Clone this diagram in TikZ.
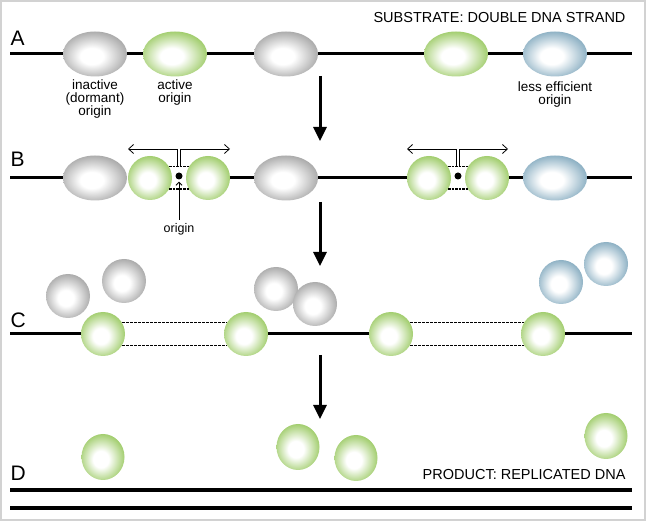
\documentclass[tikz,border=0pt]{standalone}
\usepackage{fontspec}
\setmainfont{Liberation Sans}
\usetikzlibrary{arrows.meta,shapes.geometric}

\definecolor{orgreen}{RGB}{118,182,42}
\definecolor{orblue}{RGB}{88,140,168}
\definecolor{orgray}{RGB}{132,132,132}

% white core, coloured rim
\pgfdeclareradialshading{ballgreen}{\pgfpoint{-3bp}{-3bp}}{color(0bp)=(white); color(9bp)=(white); color(35bp)=(orgreen); color(50bp)=(orgreen!90!black)}
\pgfdeclareradialshading{ballblue}{\pgfpoint{-3bp}{-3bp}}{color(0bp)=(white); color(9bp)=(white); color(35bp)=(orblue); color(50bp)=(orblue!90!black)}
\pgfdeclareradialshading{ballgray}{\pgfpoint{-3bp}{-3bp}}{color(0bp)=(white); color(9bp)=(white); color(35bp)=(orgray); color(50bp)=(orgray!90!black)}

\begin{document}
\begin{tikzpicture}[x=1pt,y=-1pt,
                    dna/.style={line width=3pt},
                    bigarrow/.style={line width=3pt,-{Triangle[length=14pt,width=13pt]}},
                    fork/.style={line width=0.8pt,-{Straight Barb[length=5pt,width=9pt]}},
                    pointer/.style={line width=0.8pt,shorten >=2pt,-{Straight Barb[length=3pt,width=6pt]}}]
  \tikzstyle{ell}=[ellipse,shade,inner sep=0pt,minimum width=64pt,minimum height=45pt]
  \tikzstyle{ball}=[circle,shade,inner sep=0pt,minimum size=44pt]
  \tikzstyle{egg}=[ellipse,shade,inner sep=0pt,minimum width=43pt,minimum height=46pt,shading=ballgreen]
  \tikzstyle{dot}=[circle,fill=black,inner sep=0pt,minimum size=7pt]
  \tikzstyle{row}=[anchor=west,font=\fontsize{21}{21}\selectfont]
  \tikzstyle{title}=[anchor=east,font=\fontsize{14.5}{14.5}\selectfont]
  \tikzstyle{lbl}=[align=center,inner sep=0pt,font=\fontsize{13.5}{13}\selectfont]

  \useasboundingbox (0,0) rectangle (646,521);
  \draw[gray!35,line width=1.5pt] (1,1) rectangle (645,520);

  % A: substrate
  \node[row]   (rowA) at (7,38)   {A};
  \node[title] (subst) at (629,18) {SUBSTRATE: DOUBLE DNA STRAND};
  \node[ell,shading=ballgray]  (a1) at (95,54)  {};
  \node[ell,shading=ballgreen] (a2) at (175,54) {};
  \node[ell,shading=ballgray]  (a3) at (286,54) {};
  \node[ell,shading=ballgreen] (a4) at (456,54) {};
  \node[ell,shading=ballblue]  (a5) at (555,54) {};
  \coordinate (Aw) at (10,54);
  \coordinate (Ae) at (632,54);
  \draw[dna] (Aw) -- (a1) -- (a2) -- (a3) -- (a4) -- (a5) -- (Ae);
  \node[lbl] (inact) at (95,99)  {inactive\\(dormant)\\origin};
  \node[lbl] (act)   at (175,93) {active\\origin};
  \node[lbl] (less)  at (555,95) {less efficient\\origin};

  \coordinate (s1) at (320,76);  \coordinate (e1) at (320,141);
  \draw[bigarrow] (s1) -- (e1);

  % B: firing
  \node[row] (rowB) at (7,159) {B};
  \node[ell,shading=ballgray]  (b1) at (95,178)  {};
  \node[ball,shading=ballgreen] (g1) at (150,178) {};
  \node[ball,shading=ballgreen] (g2) at (208,178) {};
  \node[ell,shading=ballgray]  (b3) at (286,178) {};
  \node[ball,shading=ballgreen] (g3) at (429,178) {};
  \node[ball,shading=ballgreen] (g4) at (487,178) {};
  \node[ell,shading=ballblue]  (b5) at (555,178) {};
  \coordinate (Bw) at (10,178);
  \coordinate (Be) at (632,178);
  \draw[dna] (Bw) -- (b1);
  \draw[dna] (g2) -- (b3) -- (g3);
  \draw[dna] (g4) -- (b5) -- (Be);
  \draw[line width=1.2pt,dash pattern=on 2.5pt off 1pt] (g1.30) -- (g2.150) (g1.-30) -- (g2.-150);
  \draw[line width=1.2pt,dash pattern=on 2.5pt off 1pt] (g3.30) -- (g4.150) (g3.-30) -- (g4.-150);
  \node[dot] (ori1) at (179,176) {};
  \node[dot] (ori2) at (458,176) {};
  \coordinate (fl1) at (128,149); \coordinate (fr1) at (230,149);
  \coordinate (fl2) at (407,149); \coordinate (fr2) at (508,149);
  \draw[fork] ([xshift=-1.5pt,yshift=9pt]ori1.center) |- (fl1);
  \draw[fork] ([xshift=1.5pt,yshift=9pt]ori1.center) |- (fr1);
  \draw[fork] ([xshift=-1.5pt,yshift=9pt]ori2.center) |- (fl2);
  \draw[fork] ([xshift=1.5pt,yshift=9pt]ori2.center) |- (fr2);
  \node[font=\fontsize{12.5}{12.5}\selectfont] (olab) at (179,229) {origin};
  \draw[pointer] (olab) -- (ori1);

  \coordinate (s2) at (320,202); \coordinate (e2) at (320,266);
  \draw[bigarrow] (s2) -- (e2);

  % C: elongation, unused origins leave
  \node[row] (rowC) at (7,320) {C};
  \node[ball,shading=ballgray] (d1) at (68,296)  {};
  \node[ball,shading=ballgray] (d2) at (124,281) {};
  \node[ball,shading=ballgray] (d3) at (276,289) {};
  \node[ball,shading=ballgray] (d4) at (315,304) {};
  \node[ball,shading=ballblue] (l1) at (561,282) {};
  \node[ball,shading=ballblue] (l2) at (606,264) {};
  \node[ball,shading=ballgreen] (c1) at (103,334) {};
  \node[ball,shading=ballgreen] (c2) at (246,334) {};
  \node[ball,shading=ballgreen] (c3) at (391,334) {};
  \node[ball,shading=ballgreen] (c4) at (543,334) {};
  \coordinate (Cw) at (10,334);
  \coordinate (Ce) at (632,334);
  \draw[dna] (Cw) -- (c1);
  \draw[dna] (c2) -- (c3);
  \draw[dna] (c4) -- (Ce);
  \draw[line width=1pt,dash pattern=on 3pt off 1pt] (c1.30) -- (c2.150) (c1.-30) -- (c2.-150);
  \draw[line width=1pt,dash pattern=on 3pt off 1pt] (c3.30) -- (c4.150) (c3.-30) -- (c4.-150);

  \coordinate (s3) at (320,355); \coordinate (e3) at (320,419);
  \draw[bigarrow] (s3) -- (e3);

  % D: product
  \node[row]   (rowD) at (7,473) {D};
  \node[title] (prod) at (629,475) {PRODUCT: REPLICATED DNA};
  \node[egg] (p1) at (103,457) {};
  \node[egg] (p2) at (298,447) {};
  \node[egg] (p3) at (356,458) {};
  \node[egg] (p4) at (606,436) {};
  \coordinate (Dw1) at (10,490); \coordinate (De1) at (632,490);
  \coordinate (Dw2) at (10,508); \coordinate (De2) at (632,508);
  \draw[line width=3.5pt] (Dw1) -- (De1);
  \draw[line width=3.5pt] (Dw2) -- (De2);
  %\draw[dna] (p1) -- (p4);
\end{tikzpicture}
\end{document}
